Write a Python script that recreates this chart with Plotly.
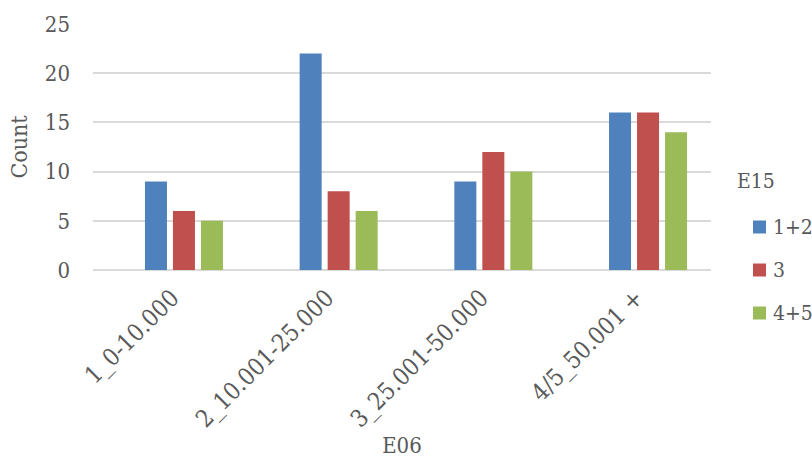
import plotly.graph_objects as go

categories = ["1_0-10.000", "2_10.001-25.000", "3_25.001-50.000", "4/5_50.001 +"]
series_names = ["1+2", "3", "4+5"]
vals_12 = [9, 22, 9, 16]
vals_3 = [6, 8, 12, 16]
vals_45 = [5, 6, 10, 14]
colors = ["#4F81BD", "#C0504D", "#9BBB59"]

FONT = "DejaVu Serif Condensed, DejaVu Serif, serif"
GREY = "#595959"

fig = go.Figure()
for i, (name, vals) in enumerate(zip(series_names, [vals_12, vals_3, vals_45])):
    fig.add_trace(go.Bar(x=categories, y=vals, name=name,
                         marker=dict(color=colors[i], line=dict(width=0)),
                         showlegend=False))

# plot area is 93..711 x 24..270 px; legend drawn by hand to the right of it
L, T, W, H = 93, 24, 618, 246
annotations = [dict(text="E15", x=(735 - L) / W, y=(T + H - 181) / H,
                    xref="paper", yref="paper", showarrow=False,
                    xanchor="left", yanchor="middle",
                    font=dict(family=FONT, size=21, color=GREY))]
shapes = []
for i, name in enumerate(series_names):
    yc = (T + H - (227 + 43 * i)) / H
    half = 6.5 / H
    shapes.append(dict(type="rect", xref="paper", yref="paper",
                       x0=(753 - L) / W, x1=(766 - L) / W, y0=yc - half, y1=yc + half,
                       fillcolor=colors[i], line=dict(width=0)))
    annotations.append(dict(text=name, x=(771 - L) / W, y=yc, xref="paper", yref="paper",
                            showarrow=False, xanchor="left", yanchor="middle",
                            font=dict(family=FONT, size=21, color=GREY)))

fig.update_layout(
    width=812, height=462,
    margin=dict(l=L, r=812 - L - W, t=T, b=462 - T - H, autoexpand=False),
    plot_bgcolor="white", paper_bgcolor="white",
    font=dict(family=FONT, color=GREY, size=21),
    barmode="group", bargap=0.457, bargroupgap=0.214,
    showlegend=False,
    xaxis=dict(type="category", range=[-0.588, 3.407], tickangle=-45,
               showgrid=False, showline=False, ticks="", automargin=False,
               ticklabelstandoff=8, ticklabelshift=-12,
               tickfont=dict(family=FONT, size=24, color=GREY),
               title=dict(text="E06", font=dict(family=FONT, size=22, color=GREY),
                          standoff=0)),
    yaxis=dict(range=[0, 25], dtick=5, showgrid=True, gridcolor="#D9D9D9",
               gridwidth=1.5, zeroline=True, zerolinecolor="#D9D9D9",
               zerolinewidth=1.5, ticks="", ticklabelstandoff=22, automargin=False,
               tickfont=dict(family=FONT, size=22, color=GREY),
               title=dict(text="Count", font=dict(family=FONT, size=23, color=GREY),
                          standoff=10)),
    annotations=annotations,
    shapes=shapes,
)

# drop the browser's default 8px body margin so the figure fills the window
fig.write_html("out.html", config={"displayModeBar": False},
               post_script="document.body.style.margin='0';")
